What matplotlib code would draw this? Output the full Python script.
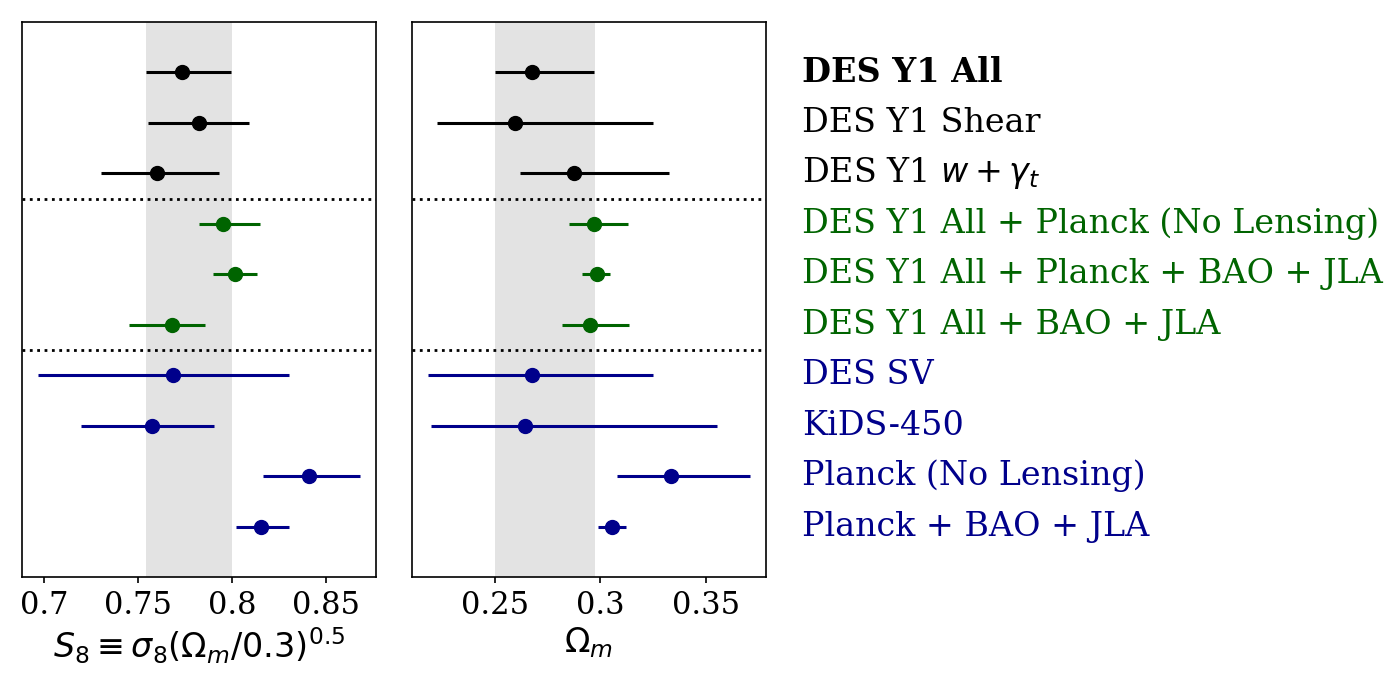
import matplotlib
matplotlib.use("Agg")
import matplotlib.pyplot as plt
import matplotlib.transforms as mtransforms

plt.rcParams['font.family'] = ['DejaVu Serif']
plt.rcParams['mathtext.fontset'] = 'dejavusans'

labels = ["DES Y1 All", "DES Y1 Shear", r"DES Y1 $w+\gamma_t$",
          "DES Y1 All + Planck (No Lensing)", "DES Y1 All + Planck + BAO + JLA",
          "DES Y1 All + BAO + JLA",
          "DES SV", "KiDS-450", "Planck (No Lensing)", "Planck + BAO + JLA"]
colors = ["black", "black", "black",
          "darkgreen", "darkgreen", "darkgreen",
          "darkblue", "darkblue", "darkblue", "darkblue"]

s8_mid = [0.7736, 0.7823, 0.7603, 0.7954, 0.8016, 0.7679, 0.7688, 0.7576, 0.8411, 0.8154]
s8_lo = [0.7541, 0.7555, 0.7303, 0.7824, 0.7901, 0.7452, 0.6970, 0.7197, 0.8163, 0.8023]
s8_hi = [0.7996, 0.8090, 0.7931, 0.8151, 0.8135, 0.7856, 0.8305, 0.7903, 0.8683, 0.8301]

om_mid = [0.2674, 0.2596, 0.2876, 0.2971, 0.2982, 0.2953, 0.2675, 0.2645, 0.3334, 0.3056]
om_lo = [0.2500, 0.2227, 0.2618, 0.2849, 0.2912, 0.2816, 0.2184, 0.2200, 0.3077, 0.2987]
om_hi = [0.2968, 0.3249, 0.3323, 0.3130, 0.3044, 0.3137, 0.3247, 0.3554, 0.3707, 0.3122]

s8_band = (0.754, 0.800)
om_band = (0.250, 0.2976)
separators = [2.5, 5.5]

s8_ticks = [0.70, 0.75, 0.80, 0.85]
s8_ticklabels = ["0.7", "0.75", "0.8", "0.85"]
om_ticks = [0.25, 0.30, 0.35]
om_ticklabels = ["0.25", "0.3", "0.35"]

fig = plt.figure(figsize=(13.97, 6.85), dpi=100)
ax1 = fig.add_axes([22/1397, 108/685, 354/1397, 555/685])
ax2 = fig.add_axes([412/1397, 108/685, 354/1397, 555/685])

n = len(labels)
ypos = list(range(n))

def panel(ax, mid, lo, hi, band, xlim, ticks, ticklabels, xlabel):
    ax.axvspan(band[0], band[1], color="#e3e3e3", zorder=0, lw=0)
    for i in range(n):
        ax.errorbar([mid[i]], [ypos[i]], xerr=[[mid[i] - lo[i]], [hi[i] - mid[i]]],
                    fmt="o", color=colors[i], ms=10, elinewidth=2.2, capsize=0, zorder=3)
    for s in separators:
        ax.axhline(s, color="black", ls=":", lw=2, zorder=2)
    ax.set_xlim(*xlim)
    ax.set_ylim(n, -1)
    ax.set_yticks([])
    ax.set_xticks(ticks)
    ax.set_xticklabels(ticklabels)
    ax.tick_params(axis="x", labelsize=22, length=4.5, width=1.2, pad=5)
    ax.set_xlabel(xlabel, fontsize=24, labelpad=3)
    for sp in ax.spines.values():
        sp.set_linewidth(1.2)

panel(ax1, s8_mid, s8_lo, s8_hi, s8_band, (0.6883, 0.8766), s8_ticks, s8_ticklabels,
      r"$S_8 \equiv \sigma_8(\Omega_m/0.3)^{0.5}$")
panel(ax2, om_mid, om_lo, om_hi, om_band, (0.2108, 0.3784), om_ticks, om_ticklabels,
      r"$\Omega_m$")

trans = mtransforms.blended_transform_factory(fig.transFigure, ax2.transData)
for i in range(n):
    fig.text(802/1397, ypos[i], labels[i], transform=trans, color=colors[i],
             fontsize=24, va="center", ha="left",
             fontweight="bold" if i == 0 else "normal")

fig.savefig("out.png", dpi=100)
